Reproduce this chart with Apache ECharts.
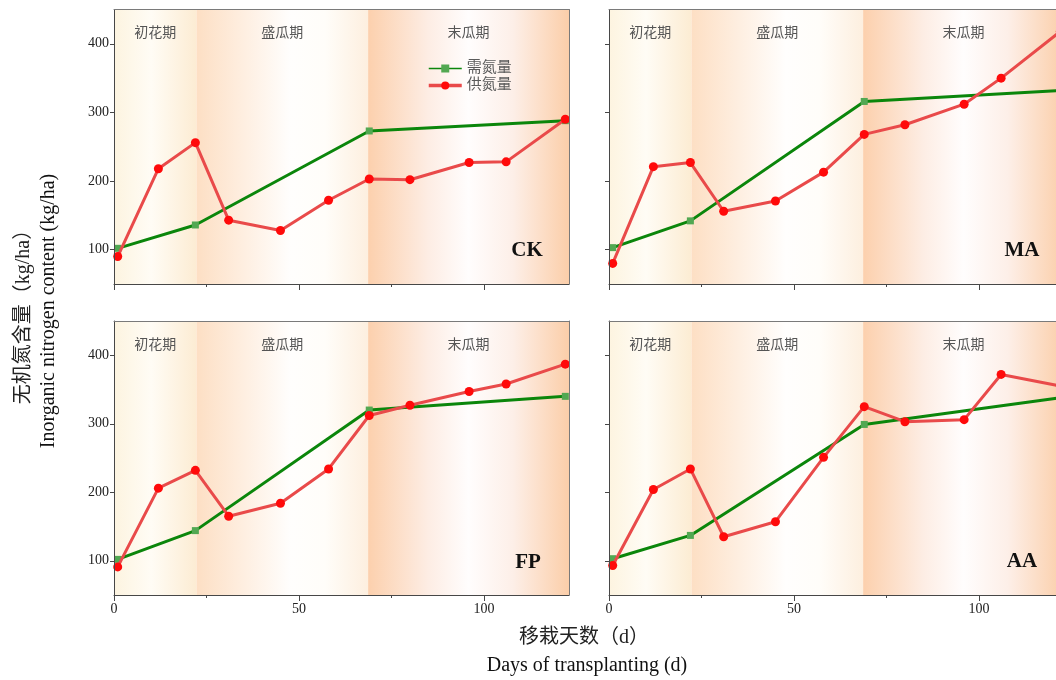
<!DOCTYPE html>
<html>
<head>
<meta charset="utf-8">
<script src="https://cdn.jsdelivr.net/npm/echarts@6/dist/echarts.min.js"></script>
<style>
  html, body { margin: 0; padding: 0; overflow: hidden; background: #fff; }
  #chart { width: 1064px; height: 680px; }
</style>
</head>
<body>
<div id="chart"></div>
<script>
// Sampling days after transplanting
const supplyDays = [1, 12, 22, 31, 45, 58, 69, 80, 96, 106, 122];
const demandDays = [1, 22, 69, 122];

// Treatments
const panelNames = ['CK', 'MA', 'FP', 'AA'];

// Nitrogen demand (需氮量) and supply (供氮量), kg/ha
const demandCK = [102, 136, 273, 288];
const supplyCK = [90, 218, 256, 143, 128, 172, 203, 202, 227, 228, 290];
const demandMA = [103, 142, 316, 332];
const supplyMA = [80, 221, 227, 156, 171, 213, 268, 282, 312, 350, 418];
const demandFP = [102, 144, 320, 340];
const supplyFP = [91, 206, 232, 165, 184, 234, 312, 327, 347, 358, 387];
const demandAA = [103, 137, 299, 338];
const supplyAA = [93, 204, 234, 135, 157, 251, 325, 303, 306, 372, 355];

// Growth stages and their day boundaries
const phaseNames = ['初花期', '盛瓜期', '末瓜期'];
const phaseEdges = [0, 22.3, 68.7, 123];

// Axis ticks
const xTicks = [0, 50, 100];
const xMinorTicks = [25, 75];
const yTicks = [100, 200, 300, 400];
const xRange = [0, 123];
const yRange = [50, 450];

const demandSets = [demandCK, demandMA, demandFP, demandAA];
const supplySets = [supplyCK, supplyMA, supplyFP, supplyAA];

const serif = '"Liberation Serif", "Times New Roman", "Noto Sans CJK SC", serif';
const axisColor = '#474747';

const gridBoxes = [
  { left: 114, top: 9.5, width: 455, height: 274.5 },
  { left: 609, top: 9.5, width: 455, height: 274.5 },
  { left: 114, top: 321, width: 455, height: 274 },
  { left: 609, top: 321, width: 455, height: 274 }
];

function hGrad(stops) {
  return {
    type: 'linear', x: 0, y: 0, x2: 1, y2: 0,
    colorStops: stops.map(s => ({ offset: s[0], color: s[1] }))
  };
}
const phaseFills = [
  hGrad([[0, '#fdf4e0'], [0.45, '#fffcf5'], [1, '#fcecd3']]),
  hGrad([[0, '#fddfc4'], [0.55, '#fffefd'], [0.75, '#fffdf9'], [1, '#fdefdf']]),
  hGrad([[0, '#fcd0ad'], [0.3, '#fdede4'], [0.5, '#fffdfd'], [0.72, '#fdefe8'], [1, '#fbcea9']])
];

const xAxes = [], yAxes = [], series = [];
gridBoxes.forEach((g, i) => {
  const showX = i >= 2, showY = i % 2 === 0;
  xAxes.push({
    gridIndex: i, type: 'value', min: xRange[0], max: xRange[1], position: 'bottom', z: 10,
    axisLine: { show: true, onZero: false, lineStyle: { color: axisColor, width: 1 } },
    axisTick: { show: true, customValues: xTicks, length: 6, lineStyle: { color: axisColor } },
    axisLabel: { show: showX, customValues: xTicks, margin: 7, fontSize: 14, color: '#222', fontFamily: serif },
    splitLine: { show: false }
  });
  xAxes.push({
    gridIndex: i, type: 'value', min: xRange[0], max: xRange[1], position: 'bottom', z: 10,
    axisLine: { show: false },
    axisTick: { show: true, customValues: xMinorTicks, length: 3, lineStyle: { color: axisColor } },
    axisLabel: { show: false },
    splitLine: { show: false }
  });
  xAxes.push({
    gridIndex: i, type: 'value', min: xRange[0], max: xRange[1], position: 'top', z: 10,
    axisLine: { show: true, onZero: false, lineStyle: { color: '#7a7a7a', width: 1 } },
    axisTick: { show: false }, axisLabel: { show: false }, splitLine: { show: false }
  });
  yAxes.push({
    gridIndex: i, type: 'value', min: yRange[0], max: yRange[1], position: 'left', z: 10,
    axisLine: { show: true, onZero: false, lineStyle: { color: axisColor, width: 1 } },
    axisTick: { show: true, customValues: yTicks, length: 4, lineStyle: { color: axisColor } },
    axisLabel: { show: showY, customValues: yTicks, margin: 5, fontSize: 14, color: '#222', fontFamily: serif },
    splitLine: { show: false }
  });
  yAxes.push({
    gridIndex: i, type: 'value', min: yRange[0], max: yRange[1], position: 'right', z: 10,
    axisLine: { show: true, onZero: false, lineStyle: { color: '#7a7a7a', width: 1 } },
    axisTick: { show: false }, axisLabel: { show: false }, splitLine: { show: false }
  });

  series.push({
    name: '需氮量', type: 'line', xAxisIndex: i * 3, yAxisIndex: i * 2, z: 3,
    data: demandDays.map((d, k) => [d, demandSets[i][k]]),
    symbol: 'rect', symbolSize: 7,
    itemStyle: { color: '#52a852' },
    lineStyle: { color: '#0b860b', width: 3 },
    emphasis: { disabled: true },
    markArea: {
      silent: true,
      label: { show: true, position: 'insideTop', distance: 17, color: '#555', fontSize: 14, fontFamily: serif },
      data: phaseNames.map((n, k) => [
        { name: n, xAxis: phaseEdges[k], itemStyle: { color: phaseFills[k] } },
        { xAxis: phaseEdges[k + 1] }
      ])
    }
  });
  series.push({
    name: '供氮量', type: 'line', xAxisIndex: i * 3, yAxisIndex: i * 2, z: 4,
    data: supplyDays.map((d, k) => [d, supplySets[i][k]]),
    symbol: 'circle', symbolSize: 9,
    itemStyle: { color: '#ff0a0a' },
    lineStyle: { color: '#e94a4a', width: 3 },
    emphasis: { disabled: true }
  });
});

const labelPos = [[527, 251], [1022, 251], [528, 563], [1022, 562]];
const graphics = panelNames.map((n, i) => ({
  type: 'text', x: labelPos[i][0], y: labelPos[i][1], z: 20,
  style: { text: n, fill: '#111', font: 'bold 21px ' + serif, textAlign: 'center', textVerticalAlign: 'middle' }
}));
graphics.push(
  { type: 'text', x: 24, y: 312, rotation: Math.PI / 2, z: 20,
    style: { text: '无机氮含量（kg/ha）', fill: '#222', font: '20px ' + serif, textAlign: 'center', textVerticalAlign: 'middle' } },
  { type: 'text', x: 49, y: 311, rotation: Math.PI / 2, z: 20,
    style: { text: 'Inorganic nitrogen content (kg/ha)', fill: '#111', font: '20px ' + serif, textAlign: 'center', textVerticalAlign: 'middle' } },
  { type: 'text', x: 584, y: 638, z: 20,
    style: { text: '移栽天数（d）', fill: '#222', font: '20px ' + serif, textAlign: 'center', textVerticalAlign: 'middle' } },
  { type: 'text', x: 587, y: 666, z: 20,
    style: { text: 'Days of transplanting (d)', fill: '#111', font: '20px ' + serif, textAlign: 'center', textVerticalAlign: 'middle' } }
);

const chart = echarts.init(document.getElementById('chart'), null, { renderer: 'canvas' });
chart.setOption({
  animation: false,
  backgroundColor: '#fff',
  grid: gridBoxes,
  xAxis: xAxes,
  yAxis: yAxes,
  legend: {
    left: 427, top: 61, padding: 0, orient: 'vertical', itemGap: 2, itemWidth: 33, itemHeight: 10,
    textStyle: { fontSize: 15, color: '#5a5a5a', fontFamily: serif },
    data: [
      { name: '需氮量', lineStyle: { width: 1.5 } },
      { name: '供氮量', lineStyle: { width: 3.5 } }
    ]
  },
  series: series,
  graphic: graphics
});
</script>
</body>
</html>
